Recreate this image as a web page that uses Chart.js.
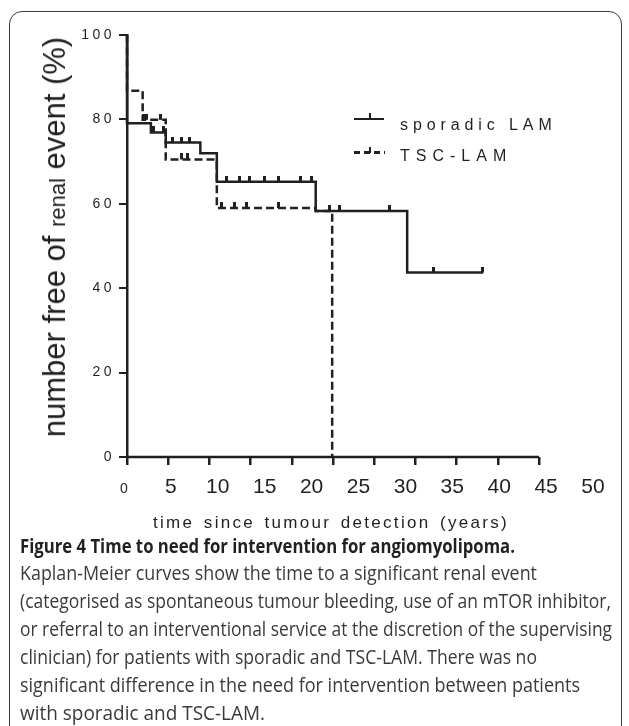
<!DOCTYPE html>
<html>
<head>
<meta charset="utf-8">
<script src="https://cdn.jsdelivr.net/npm/chart.js@4.4.1/dist/chart.umd.min.js"></script>
<style>
  body { margin:0; background:#fff; width:629px; height:726px; overflow:hidden; position:relative;
         font-family:"Liberation Sans", Arial, sans-serif; color:#231f20; }
  #frame { position:absolute; left:9px; top:11px; width:613px; height:730px; border:1.5px solid #3c3c3c;
           border-radius:13px; box-sizing:border-box; }
  #wrap { position:absolute; left:0; top:0; width:629px; height:540px; }
  .abs { position:absolute; white-space:pre; }
  .ytitle { left:56px; top:237px; font-size:31px; line-height:31px; transform:translate(-50%,-50%) rotate(-90deg); }
  .ytitle span { font-size:22px; }
  .legtxt { font-size:16px; line-height:16px; }
  .xtitle { left:153px; top:514px; font-size:17px; line-height:17px; letter-spacing:2.3px; word-spacing:2.5px; }
  .cap { left:20px; font-family:"Open Sans", "Noto Sans", sans-serif; transform-origin:0 0; }
  .cap.b { font-weight:bold; font-size:19px; line-height:19px; color:#231f20; }
  .cap.n { font-size:20px; line-height:20px; color:#3a3a3a; }
</style>
</head>
<body>
<div id="frame"></div>
<div id="wrap"><canvas id="km" width="629" height="540"></canvas></div>

<div class="abs ytitle">number free of <span>renal</span> event (%)</div>

<!-- legend -->
<div class="abs" style="left:354px;top:117.5px;width:30px;height:2.5px;background:#231f20"></div>
<div class="abs" style="left:368.5px;top:113px;width:2.5px;height:6px;background:#231f20"></div>
<div class="abs legtxt" style="left:400px;top:116.5px;letter-spacing:4.9px">sporadic LAM</div>
<div class="abs" style="left:354px;top:151px;width:31px;height:2.5px;background:repeating-linear-gradient(to right,#231f20 0 6px,transparent 6px 10px)"></div>
<div class="abs" style="left:368.5px;top:146.5px;width:2.5px;height:6px;background:#231f20"></div>
<div class="abs legtxt" style="left:400px;top:148.2px;letter-spacing:6px">TSC-LAM</div>

<div class="abs xtitle">time since tumour detection (years)</div>

<div class="abs cap b" data-w="495" style="top:537px">Figure 4 Time to need for intervention for angiomyolipoma.</div>
<div class="abs cap n" data-w="517" style="top:563px">Kaplan-Meier curves show the time to a significant renal event</div>
<div class="abs cap n" data-w="591" style="top:591px">(categorised as spontaneous tumour bleeding, use of an mTOR inhibitor,</div>
<div class="abs cap n" data-w="592" style="top:619px">or referral to an interventional service at the discretion of the supervising</div>
<div class="abs cap n" data-w="517" style="top:647px">clinician) for patients with sporadic and TSC-LAM. There was no</div>
<div class="abs cap n" data-w="560" style="top:675px">significant difference in the need for intervention between patients</div>
<div class="abs cap n" data-w="245" style="top:703px">with sporadic and TSC-LAM.</div>

<script>
// KAPLAN-MEIER DATA (years, % free of renal event)
const sporadicTime = [0, 0, 2.9, 4.7, 8.9, 10.9, 22.9, 34.0, 43.2];
const sporadicFree = [100, 79.1, 76.9, 74.5, 72.0, 65.2, 58.3, 43.7, 43.7];
const tscTime = [0, 0, 1.9, 4.7, 10.9, 22.9, 24.9];
const tscFree = [100, 86.8, 79.9, 70.5, 59.0, 58.3, 0];

// censored patients
const sporadicCensorTime = [3.2, 4.4, 5.5, 6.6, 7.6, 12.1, 13.7, 14.9, 16.7, 18.4, 21.0, 22.4, 25.8, 31.8, 37.2, 43.2];
const sporadicCensorFree = [76.9, 76.9, 74.5, 74.5, 74.5, 65.2, 65.2, 65.2, 65.2, 65.2, 65.2, 65.2, 58.3, 58.3, 43.7, 43.7];
const tscCensorTime = [2.0, 2.4, 4.1, 6.6, 7.4, 11.5, 13.1, 14.5, 18.4, 24.6];
const tscCensorFree = [79.9, 79.9, 79.9, 70.5, 70.5, 59.0, 59.0, 59.0, 59.0, 58.3];

// axis
const xTicks = [0, 5, 10, 15, 20, 25, 30, 35, 40, 45, 50];
const yTicks = [0, 20, 40, 60, 80, 100];
const axisTime = [0, 50];
const axisFree = [0, 0];

const ink = '#231f20';
const family = '"Liberation Sans", Arial, sans-serif';

function points(xs, ys) {
    return xs.map((x, i) => ({ x: x, y: ys[i] }));
}

function censorMark() {
    let c = document.createElement('canvas');
    c.width = 3;
    c.height = 12;
    let g = c.getContext('2d');
    g.fillStyle = ink;
    g.fillRect(0, 0, 3, 6);
    return c;
}
let mark = censorMark();

function useTicks(values) {
    return (scale) => { scale.ticks = values.map(v => ({ value: v })); };
}

// letter spaced tick labels like the original export
let spacing = {
    id: 'spacing',
    afterUpdate(chart) {
        let y = chart.scales.y;
        if (y && !y._spaced) {
            let orig = y.drawLabels.bind(y);
            y.drawLabels = function (area) {
                this.ctx.save();
                this.ctx.letterSpacing = '3.5px';
                orig(area);
                this.ctx.restore();
            };
            y._spaced = true;
        }
    }
};

let kmChart = new Chart(document.querySelector('#km').getContext('2d'), {
    type: 'line',
    data: {
        datasets: [
            {
                label: 'sporadic LAM',
                data: points(sporadicTime, sporadicFree),
                stepped: 'before',
                borderColor: ink,
                borderWidth: 2.5,
                pointRadius: 0,
                clip: false
            },
            {
                label: 'TSC-LAM',
                data: points(tscTime, tscFree),
                stepped: 'before',
                borderColor: ink,
                borderWidth: 2.5,
                borderDash: [8, 4],
                pointRadius: 0,
                clip: false
            },
            {
                label: 'sporadic censored',
                data: points(sporadicCensorTime, sporadicCensorFree),
                showLine: false,
                pointStyle: mark,
                pointRadius: 3,
                clip: false
            },
            {
                label: 'TSC censored',
                data: points(tscCensorTime, tscCensorFree),
                showLine: false,
                pointStyle: mark,
                pointRadius: 3,
                clip: false
            },
            {
                label: 'axis',
                data: points(axisTime, axisFree),
                borderColor: ink,
                borderWidth: 2.5,
                pointRadius: 0,
                clip: false
            }
        ]
    },
    options: {
        responsive: false,
        animation: false,
        events: [],
        layout: { padding: { left: 0, top: 35, right: 29, bottom: 35 } },
        plugins: {
            legend: { display: false },
            tooltip: { enabled: false }
        },
        scales: {
            x: {
                type: 'linear',
                min: 0,
                max: 57.4,
                weight: 0,
                border: { display: false },
                grid: { drawOnChartArea: false, tickLength: 8, lineWidth: 2.5, color: ink },
                ticks: { display: false },
                afterBuildTicks: useTicks(xTicks),
                afterFit: (s) => { s.height = 8; }
            },
            x2: {
                type: 'linear',
                position: 'bottom',
                min: 0.32,
                max: 50.75,
                weight: 1,
                border: { display: false },
                grid: { display: false },
                ticks: {
                    padding: 1.4,
                    color: ink,
                    font: (c) => (c.tick && c.tick.value === 0)
                        ? { size: 14, lineHeight: 2.05, family: family }
                        : { size: 21, family: family }
                },
                afterBuildTicks: useTicks(xTicks),
                afterFit: (s) => { s.height = 40; }
            },
            y: {
                min: 0,
                max: 100,
                border: { color: ink, width: 2.5 },
                grid: { drawOnChartArea: false, tickLength: 8, lineWidth: 2, color: ink },
                ticks: { padding: 4, color: ink, font: { size: 14, family: family } },
                afterBuildTicks: useTicks(yTicks),
                afterFit: (s) => { s.width = 127; }
            }
        }
    },
    plugins: [spacing]
});

// CAPTION: squeeze each line to the width of the printed line
function fitCaption() {
    document.querySelectorAll('.cap').forEach((el) => {
        el.style.transform = 'none';
        let w = el.getBoundingClientRect().width;
        let target = Number(el.dataset.w);
        el.style.transform = `scaleX(${target / w})`;
    });
}
fitCaption();
if (document.fonts) document.fonts.ready.then(fitCaption);
</script>
</body>
</html>
